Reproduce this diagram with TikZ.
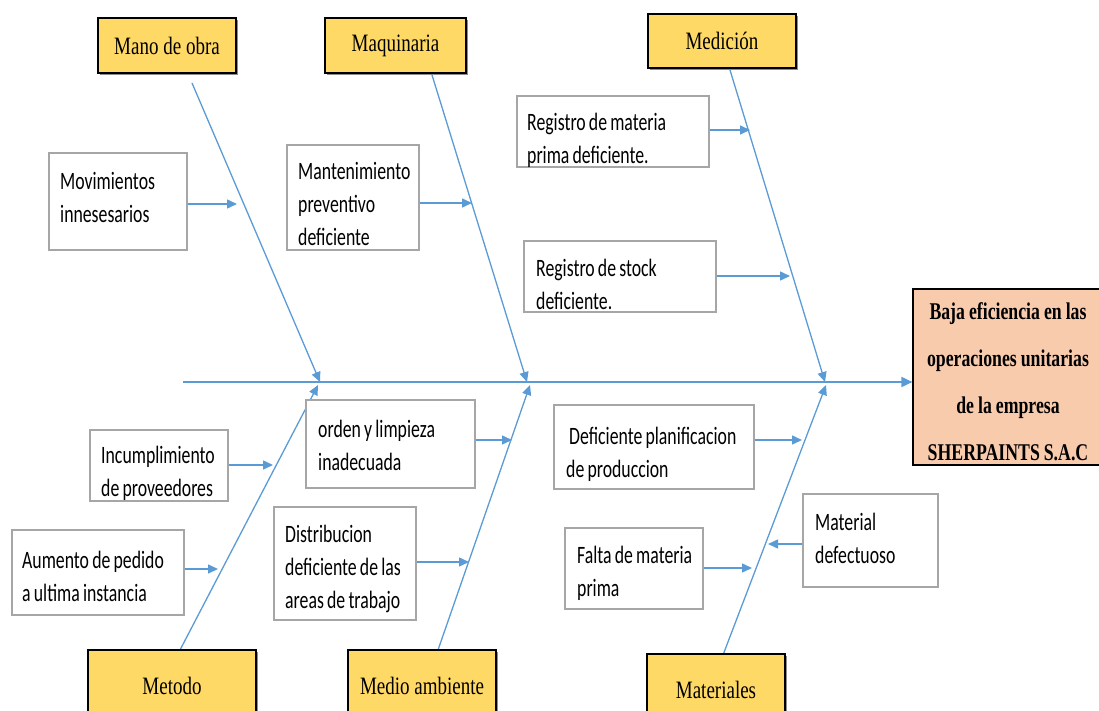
\documentclass[tikz,border=0pt]{standalone}
\usepackage{fontspec}
\setmainfont{Liberation Serif}
\newfontfamily\causefont[FakeStretch=0.71]{Carlito}
\newfontfamily\labfont[FakeStretch=0.76]{Liberation Serif}
\newfontfamily\headfont[FakeStretch=0.74]{Liberation Serif}
\newcommand\causefnt{\causefont\fontsize{25}{33}\selectfont\hyphenpenalty=10000\relax}
\newcommand\headfnt{\headfont\bfseries\fontsize{24}{47}\selectfont}
\newcommand\causespc{\spaceskip=3.2pt plus 1pt minus 1pt\relax\xspaceskip=3.2pt\relax}
\newcommand\headspc{\spaceskip=4pt plus 1pt minus 1pt\relax\xspaceskip=4pt\relax}
\usetikzlibrary{arrows.meta,shadows}
\definecolor{bone}{HTML}{5B9BD5}
\definecolor{catyel}{HTML}{FFD966}
\definecolor{headpeach}{HTML}{F8CBAD}
\definecolor{boxgray}{HTML}{A6A6A6}
\tikzset{
  cat/.style={draw=black, line width=1.2pt, fill=catyel, inner sep=0pt,
    drop shadow={shadow xshift=2pt, shadow yshift=-2pt, fill=black!45, opacity=1},
    font=\labfont\fontsize{25}{28}\selectfont},
  causebox/.style={draw=boxgray, line width=1.2pt, fill=white, inner sep=0pt},
  causetext/.style={anchor=west, inner sep=0pt, align=left, text width=220pt, font=\causefnt,
    execute at begin node=\causespc},
  headbox/.style={draw=black, line width=1.2pt, fill=headpeach, inner sep=0pt},
  headtext/.style={inner sep=0pt, align=center, font=\headfnt, execute at begin node=\headspc},
  bonel/.style={draw=bone, line width=1.3pt, -{Triangle[length=10pt,width=9pt]}},
  spinel/.style={draw=bone, line width=1.8pt, -{Triangle[length=11pt,width=10pt]}},
  arr/.style={draw=bone, line width=1.5pt, -{Triangle[length=10pt,width=9pt]}}
}
\begin{document}
\begin{tikzpicture}[x=1pt,y=-1pt]
\useasboundingbox (0,0) rectangle (1099,711);
\clip (0,0) rectangle (1099,711);
% head
\node[headbox, minimum width=188pt, minimum height=176pt] (head) at (1007,377) {};
\node[headtext] (headt) at (1008,382)
  {Baja eficiencia en las\\operaciones unitarias\\de la empresa\\SHERPAINTS S.A.C};
% spine
\coordinate (spS) at (183,382);
\draw[spinel] (spS) -- (spS -| head.west);
% bones
\coordinate (m1) at (192,83);  \coordinate (j1) at (320,382);
\coordinate (m2) at (432,75);  \coordinate (j2) at (527,382);
\coordinate (m3) at (730,70);  \coordinate (j3) at (825,382);
\coordinate (m4) at (180,650); \coordinate (j4) at (318,385);
\coordinate (m5) at (438,650); \coordinate (j5) at (530,385);
\coordinate (m6) at (723,655); \coordinate (j6) at (826,385);
\draw[bonel] (m1) -- (j1);
\draw[bonel] (m2) -- (j2);
\draw[bonel] (m3) -- (j3);
\draw[bonel] (m4) -- (j4);
\draw[bonel] (m5) -- (j5);
\draw[bonel] (m6) -- (j6);
% categories
\node[cat, minimum width=138pt, minimum height=55pt] (k1) at (167,45.5) {Mano de obra};
\node[cat, minimum width=141pt, minimum height=55pt] (k2) at (395.5,45.5) {Maquinaria};
\node[cat, minimum width=148pt, minimum height=54pt] (k3) at (722,41) {Medición};
\node[cat, minimum width=168pt, minimum height=72pt] (k4) at (172,686) {Metodo};
\node[cat, minimum width=148pt, minimum height=72pt] (k5) at (422,686) {Medio ambiente};
\node[cat, minimum width=138pt, minimum height=72pt] (k6) at (716,690) {Materiales};
% cause boxes
\node[causebox, minimum width=138pt, minimum height=97pt] (b1) at (118,201.5) {};
\node[causebox, minimum width=132pt, minimum height=105pt] (b2) at (353,197.5) {};
\node[causebox, minimum width=192pt, minimum height=71pt] (b3) at (613,131.5) {};
\node[causebox, minimum width=192pt, minimum height=71pt] (b4) at (620,276.5) {};
\node[causebox, minimum width=169pt, minimum height=88pt] (b5) at (390.5,444) {};
\node[causebox, minimum width=138pt, minimum height=71pt] (b6) at (159,465.5) {};
\node[causebox, minimum width=172pt, minimum height=85pt] (b7) at (98,572.5) {};
\node[causebox, minimum width=142pt, minimum height=113pt] (b8) at (345,563.5) {};
\node[causebox, minimum width=200pt, minimum height=84pt] (b9) at (654,447) {};
\node[causebox, minimum width=138pt, minimum height=81pt] (b10) at (634,568.5) {};
\node[causebox, minimum width=135pt, minimum height=93pt] (b11) at (870.5,540.5) {};
% cause texts
\node[causetext] (c1) at (60,197) {Movimientos\\innesesarios};
\node[causetext] (c2) at (298,204.3) {Mantenimiento\\preventivo\\deficiente};
\node[causetext] (c3) at (527,140.5) {Registro de materia\\prima deficiente.};
\node[causetext] (c4) at (536,284.5) {Registro de stock\\deficiente.};
\node[causetext] (c5) at (318,445) {orden y limpieza\\inadecuada};
\node[causetext] (c6) at (101,473.5) {Incumplimiento\\de proveedores};
\node[causetext] (c7) at (22,576.5) {Aumento de pedido\\a ultima instancia};
\node[causetext] (c8) at (285,569) {Distribucion\\deficiente de las\\areas de trabajo};
\node[causetext] (c9) at (566,454) {\hspace*{3pt}Deficiente planificacion\\de produccion};
\node[causetext] (c10) at (577,573) {Falta de materia\\prima};
\node[causetext] (c11) at (815,538) {Material\\defectuoso};
% arrow tips
\coordinate (t1) at (237,204);
\coordinate (t2) at (472,203);
\coordinate (t3) at (750,130);
\coordinate (t4) at (790,276);
\coordinate (t5) at (512,440);
\coordinate (t6) at (273,465);
\coordinate (t7) at (218,569);
\coordinate (t8) at (469,562);
\coordinate (t9) at (802,440);
\coordinate (t10) at (752,568);
\coordinate (t11) at (768,544);
\draw[arr] (b1.east |- t1) -- (t1);
\draw[arr] (b2.east |- t2) -- (t2);
\draw[arr] (b3.east |- t3) -- (t3);
\draw[arr] (b4.east |- t4) -- (t4);
\draw[arr] (b5.east |- t5) -- (t5);
\draw[arr] (b6.east |- t6) -- (t6);
\draw[arr] (b7.east |- t7) -- (t7);
\draw[arr] (b8.east |- t8) -- (t8);
\draw[arr] (b9.east |- t9) -- (t9);
\draw[arr] (b10.east |- t10) -- (t10);
\draw[arr] (b11.west |- t11) -- (t11);
\end{tikzpicture}
\end{document}
